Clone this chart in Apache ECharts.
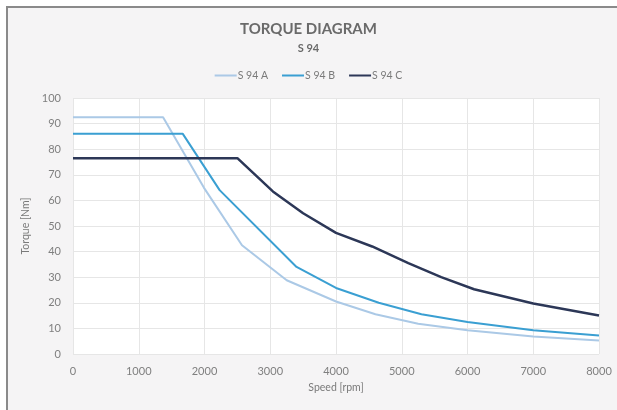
<!DOCTYPE html>
<html><head><meta charset="utf-8">
<script src="https://cdn.jsdelivr.net/npm/echarts@6/dist/echarts.min.js"></script>
<style>
html,body{margin:0;padding:0;background:#fff;}
#frame{position:absolute;left:6px;top:6px;width:611px;height:404px;background:#f5f4f5;border-left:2px solid #8a8a8a;border-top:2px solid #8a8a8a;box-sizing:border-box;}
#chart{position:absolute;left:0;top:0;width:617px;height:410px;}
</style></head>
<body>
<div id="frame"></div>
<div id="chart"></div>
<script>
const seriesNames = ['S 94 A', 'S 94 B', 'S 94 C'];
const speedA  = [0, 1370, 1990, 2570, 3250, 4000, 4600, 5250, 6000, 7000, 8000];
const torqueA = [92.5, 92.5, 65, 42.5, 28.8, 20.5, 15.5, 11.8, 9.3, 6.8, 5.3];
const speedB  = [0, 1670, 2230, 3400, 4000, 4650, 5300, 6000, 7000, 8000];
const torqueB = [86, 86, 64, 34, 25.8, 20, 15.5, 12.5, 9.3, 7.2];
const speedC  = [0, 2500, 3040, 3500, 4000, 4550, 5100, 5600, 6100, 7000, 8000];
const torqueC = [76.5, 76.5, 63.5, 55, 47.3, 42, 35.5, 30, 25.3, 19.7, 15];
const xTicks = [0, 1000, 2000, 3000, 4000, 5000, 6000, 7000, 8000];
const yTicks = [0, 10, 20, 30, 40, 50, 60, 70, 80, 90, 100];

const pairs = (xs, ys) => xs.map((x, i) => [x, ys[i]]);
const colors = ['#abc9e6', '#3a9fd2', '#2c3757'];
const widths = [2, 2, 2.5];
const data = [pairs(speedA, torqueA), pairs(speedB, torqueB), pairs(speedC, torqueC)];
const font = 'Lato, "Open Sans", sans-serif';

const chart = echarts.init(document.getElementById('chart'), null, {renderer: 'canvas'});
chart.setOption({
  animation: false,
  textStyle: {fontFamily: font},
  title: [
    {text: 'TORQUE DIAGRAM', left: 'center', top: 17, textStyle: {fontSize: 15, fontWeight: 'bold', color: '#6a6a6a', fontFamily: font}},
    {text: 'S 94', left: 'center', top: 38, textStyle: {fontSize: 11, fontWeight: 'bold', color: '#6a6a6a', fontFamily: font}}
  ],
  legend: {
    top: 65, left: 'center', itemWidth: 22, itemHeight: 2, itemGap: 14,
    icon: 'rect',
    textStyle: {fontSize: 10.5, color: '#7a7a7a', padding: [0, 0, 0, -4]},
    data: seriesNames
  },
  grid: {left: 73, right: 18, top: 98, bottom: 56, show: true, backgroundColor: '#ffffff', borderWidth: 0},
  xAxis: {
    type: 'value', min: xTicks[0], max: xTicks[xTicks.length - 1], interval: 1000,
    name: 'Speed [rpm]', nameLocation: 'middle', nameGap: 27,
    nameTextStyle: {fontSize: 10.5, color: '#7a7a7a'},
    axisLine: {show: false}, axisTick: {show: false},
    axisLabel: {fontSize: 11, color: '#7f7f7f', margin: 12, formatter: v => String(v)},
    splitLine: {show: true, lineStyle: {color: '#e6e6e6', width: 1}}
  },
  yAxis: {
    type: 'value', min: yTicks[0], max: yTicks[yTicks.length - 1], interval: 10,
    name: 'Torque [Nm]', nameLocation: 'middle', nameGap: 36, nameRotate: 90,
    nameTextStyle: {fontSize: 10.5, color: '#7a7a7a'},
    axisLine: {show: false}, axisTick: {show: false},
    axisLabel: {fontSize: 11, color: '#7f7f7f', margin: 12, formatter: v => String(v)},
    splitLine: {show: true, lineStyle: {color: '#e6e6e6', width: 1}}
  },
  series: seriesNames.map((n, i) => ({
    name: n, type: 'line', data: data[i], showSymbol: false, symbol: 'none',
    lineStyle: {color: colors[i], width: widths[i]}, itemStyle: {color: colors[i]}
  }))
});
</script>
</body></html>
